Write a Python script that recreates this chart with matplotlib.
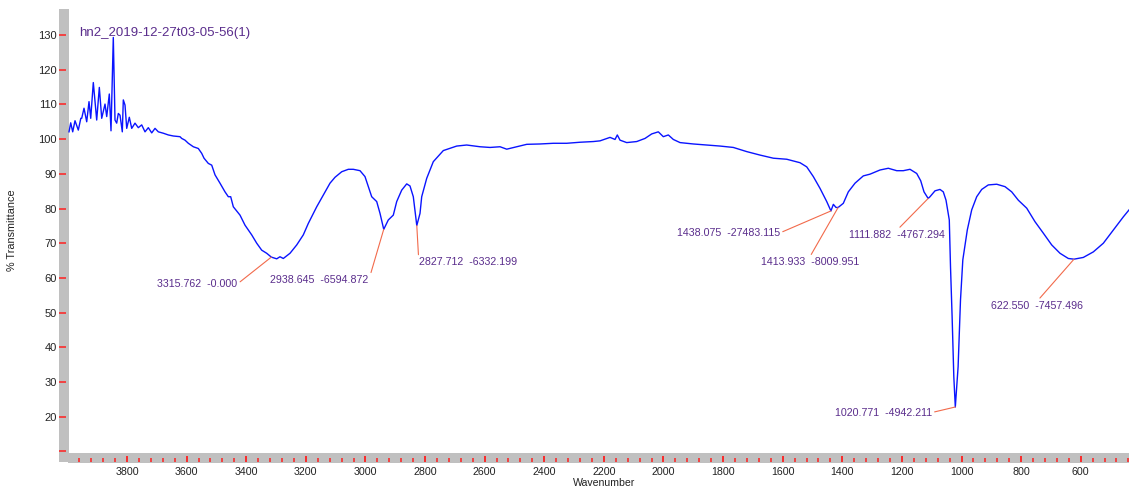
import matplotlib
matplotlib.use('Agg')
import matplotlib.pyplot as plt
from matplotlib.ticker import MultipleLocator, FixedLocator, FixedFormatter
from matplotlib.patches import Rectangle

# ---------------- data ----------------
wavenumber = [
    3994.6, 3988.9, 3982.2, 3974.5, 3963.4, 3955.0, 3952.0, 3944.3, 3935.2, 3927.5,
    3921.8, 3913.1, 3901.7, 3892.9, 3884.9, 3873.8, 3868.1, 3859.4, 3853.7, 3846.0,
    3840.3, 3834.6, 3829.2, 3823.5, 3815.8, 3812.4, 3806.7, 3801.0, 3792.3, 3784.2,
    3773.2, 3762.1, 3750.7, 3739.6, 3728.5, 3717.1, 3706.0, 3694.9, 3678.2, 3661.4,
    3644.6, 3622.2, 3616.5, 3605.4, 3594.3, 3577.5, 3560.8, 3549.4, 3541.6, 3527.2,
    3515.8, 3504.7, 3488.0, 3471.2, 3460.1, 3452.1, 3443.3, 3420.9, 3404.1, 3381.6,
    3364.8, 3348.1, 3331.3, 3315.8, 3297.7, 3286.7, 3275.6, 3253.1, 3230.6, 3208.5,
    3191.7, 3163.5, 3141.4, 3118.9, 3102.1, 3079.6, 3057.5, 3040.7, 3018.2, 3001.5,
    2990.4, 2979.0, 2962.2, 2951.1, 2938.6, 2923.3, 2906.5, 2895.1, 2878.3, 2861.5,
    2850.5, 2839.4, 2827.7, 2816.9, 2811.2, 2794.4, 2772.3, 2738.7, 2693.8, 2660.2,
    2615.5, 2582.0, 2548.4, 2525.9, 2492.3, 2458.8, 2414.2, 2369.6, 2324.6, 2280.0,
    2235.4, 2212.9, 2179.3, 2162.6, 2154.9, 2145.8, 2123.3, 2089.8, 2061.9, 2039.4,
    2017.3, 2000.5, 1983.7, 1966.9, 1944.4, 1899.8, 1854.8, 1810.2, 1765.6, 1720.6,
    1676.0, 1631.3, 1586.4, 1541.8, 1519.3, 1497.2, 1474.7, 1452.2, 1438.1, 1430.0,
    1421.0, 1413.9, 1396.6, 1379.8, 1357.3, 1329.5, 1307.0, 1273.5, 1245.6, 1217.4,
    1195.3, 1172.8, 1150.3, 1136.9, 1125.8, 1111.9, 1105.7, 1088.9, 1072.2, 1061.1,
    1052.0, 1041.0, 1036.9, 1031.5, 1025.8, 1020.8, 1011.4, 1003.4, 995.6, 980.6,
    965.8, 949.0, 932.2, 910.1, 881.9, 854.0, 831.6, 809.4, 781.2, 753.4,
    725.5, 697.3, 669.5, 641.6, 622.6, 591.3, 557.7, 524.1, 490.6, 457.0,
    437.9,
]
transmittance = [
    102.1, 104.7, 102.1, 105.3, 102.6, 106.0, 106.0, 108.9, 105.0, 110.8,
    106.0, 116.3, 105.5, 114.9, 106.0, 110.1, 106.5, 113.0, 102.4, 129.3,
    105.5, 104.6, 107.4, 106.9, 102.1, 111.3, 109.8, 103.1, 106.3, 103.1,
    104.6, 103.3, 104.1, 102.1, 103.3, 101.8, 103.1, 102.1, 101.7, 101.2,
    100.9, 100.7, 100.2, 99.7, 98.8, 97.8, 97.3, 95.9, 94.5, 93.0,
    92.5, 89.7, 87.3, 84.8, 83.4, 83.4, 80.5, 78.1, 75.2, 72.4,
    70.0, 68.0, 67.1, 66.0, 65.5, 66.1, 65.6, 67.1, 69.5, 72.4,
    75.7, 80.5, 83.9, 87.3, 89.0, 90.6, 91.3, 91.3, 90.9, 89.2,
    86.3, 83.4, 82.0, 78.6, 74.0, 76.7, 78.1, 82.0, 85.3, 87.1,
    86.5, 83.4, 75.1, 78.6, 83.4, 88.7, 93.5, 96.7, 98.0, 98.3,
    97.8, 97.6, 97.8, 97.1, 97.8, 98.5, 98.6, 98.8, 98.8, 99.1,
    99.3, 99.5, 100.5, 99.9, 101.2, 99.7, 99.0, 99.3, 100.2, 101.5,
    102.1, 100.7, 101.2, 99.9, 99.0, 98.6, 98.3, 98.0, 97.6, 96.4,
    95.4, 94.5, 94.2, 93.2, 92.0, 89.2, 85.8, 82.0, 79.3, 81.2,
    80.3, 80.3, 81.5, 84.8, 87.3, 89.4, 89.9, 91.1, 91.6, 90.9,
    90.9, 91.3, 90.1, 88.0, 84.8, 82.9, 83.4, 85.1, 85.5, 84.8,
    82.4, 76.7, 63.2, 48.8, 31.5, 22.8, 34.4, 53.6, 65.2, 73.8,
    79.6, 83.4, 85.5, 86.8, 87.0, 86.3, 84.8, 82.4, 80.1, 76.2,
    72.9, 69.5, 67.1, 65.6, 65.4, 65.9, 67.5, 70.0, 73.8, 77.6,
    79.6,
]

peak_wn = [3315.762, 2938.645, 2827.712, 1438.075, 1413.933, 1111.882, 1020.771, 622.550]
peak_t = [66.0, 74.0, 75.1, 79.3, 80.3, 82.9, 22.8, 65.4]
peak_text = [
    "3315.762  -0.000", "2938.645  -6594.872", "2827.712  -6332.199",
    "1438.075  -27483.115", "1413.933  -8009.951", "1111.882  -4767.294",
    "1020.771  -4942.211", "622.550  -7457.496",
]

title_text = "hn2_2019-12-27t03-05-56(1)"
x_label = "Wavenumber"
y_label = "% Transmittance"
y_tick_values = [10, 20, 30, 40, 50, 60, 70, 80, 90, 100, 110, 120, 130]
y_tick_labels = ["", "20", "30", "40", "50", "60", "70", "80", "90", "100", "110", "120", "130"]

# ---------------- layout / style ----------------
W, H = 1129, 490
DPI = 100
PX = 72.0 / DPI  # points per pixel

# text offsets (points) relative to each peak, alignment and leader-line attach point
label_layout = [
    ((-24.5, -19.4), 'right', (1.0, 0.5)),
    ((-10.8, -36.7), 'right', (1.0, 0.5)),
    ((1.5, -26.6), 'left', (0.0, 0.5)),
    ((-36.7, -15.8), 'right', (1.0, 0.5)),
    ((-20.5, -39.4), 'center', (0.5, 1.0)),
    ((-22.3, -26.3), 'center', (0.5, 1.0)),
    ((-16.9, -4.0), 'right', (1.0, 0.5)),
    ((-26.3, -33.6), 'center', (0.5, 1.0)),
]

FONT = ['Liberation Sans', 'DejaVu Sans']
plt.rcParams['font.family'] = FONT

PURPLE = '#5a2d8c'
TICK_RED = '#ff2020'
LEADER = '#f26a4b'
GRAY = '#c0c0c0'

fig = plt.figure(figsize=(W / DPI, H / DPI), dpi=DPI)
ax = fig.add_axes([68 / W, 1 - 453 / H, (1129 - 68) / W, (453 - 9) / H])
ax.patch.set_alpha(0)

# gray axis bars
fig.add_artist(Rectangle((59 / W, 1 - 462 / H), 10 / W, 453 / H,
                         transform=fig.transFigure, facecolor=GRAY, edgecolor='none', zorder=-1))
fig.add_artist(Rectangle((68 / W, 1 - 462.7 / H), (1129 - 68) / W, 10 / H,
                         transform=fig.transFigure, facecolor=GRAY, edgecolor='none', zorder=-1))

ax.plot(wavenumber, transmittance, color='#0a14ff', lw=1.0, zorder=3)

ax.set_xlim(3998, 438)
ax.set_ylim(9.54, 137.5)

for s in ax.spines.values():
    s.set_visible(False)
ax.spines['left'].set_position(('outward', 2 * PX))
ax.spines['bottom'].set_position(('outward', 9 * PX))

ax.xaxis.set_major_locator(MultipleLocator(200))
ax.xaxis.set_minor_locator(MultipleLocator(40))
ax.yaxis.set_major_locator(FixedLocator(y_tick_values))
ax.yaxis.set_major_formatter(FixedFormatter(y_tick_labels))

ax.tick_params(axis='x', which='major', direction='in', length=6 * PX, width=1.3,
               color=TICK_RED, labelsize=7.7, labelcolor='#222222', pad=3.5)
ax.tick_params(axis='x', which='minor', direction='in', length=4 * PX, width=1.1,
               color=TICK_RED)
ax.tick_params(axis='y', which='major', direction='out', length=7 * PX, width=1.1,
               color=TICK_RED, labelsize=8, labelcolor='#222222', pad=1.5)

for wn, t, txt, (off, ha, rp) in zip(peak_wn, peak_t, peak_text, label_layout):
    ax.annotate(txt, xy=(wn, t), xytext=off, textcoords='offset points',
                ha=ha, va='center', fontsize=7.7, color=PURPLE, zorder=4,
                arrowprops=dict(arrowstyle='-', color=LEADER, lw=0.8,
                                shrinkA=0, shrinkB=0, relpos=rp))

fig.text(79 / W, 1 - 33 / H, title_text, ha='left', va='center', fontsize=9.5, color=PURPLE)
fig.text(604 / W, 1 - 483 / H, x_label, ha='center', va='center', fontsize=7.6, color='#222222')
fig.text(12 / W, 1 - 230 / H, y_label, ha='center', va='center', rotation=90,
         fontsize=7.8, color='#222222')

fig.savefig('out.png', dpi=DPI)
